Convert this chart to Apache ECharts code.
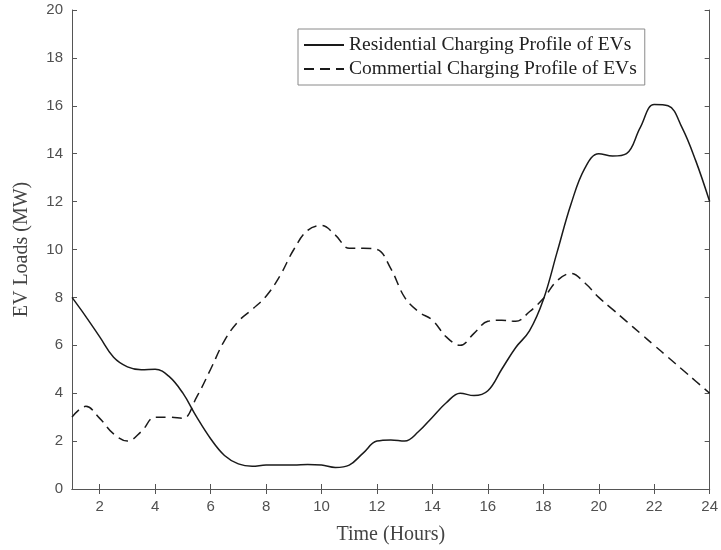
<!DOCTYPE html>
<html>
<head>
<meta charset="utf-8">
<script src="https://cdn.jsdelivr.net/npm/echarts@6/dist/echarts.min.js"></script>
<style>
  html, body { margin: 0; padding: 0; background: #fff; }
  #chart { width: 721px; height: 550px; }
</style>
</head>
<body>
<div id="chart"></div>
<script>
// Time (hours), read every half hour from the reference
var hours = [1, 1.5, 2, 2.5, 3, 3.5, 4, 4.5, 5, 5.5, 6, 6.5, 7, 7.5, 8, 8.5, 9, 9.5, 10, 10.5, 11, 11.5, 12, 12.5,
             13, 13.5, 14, 14.5, 15, 15.5, 16, 16.5, 17, 17.5, 18, 18.5, 19, 19.5, 20, 20.5, 21, 21.5, 22, 22.5, 23, 23.5, 24];
// Residential charging profile (MW)
var residential = [8.0, 7.2, 6.35, 5.5, 5.1, 4.98, 5.0, 4.7, 4.0, 3.0, 2.1, 1.4, 1.05, 0.95, 1.0, 1.0, 1.0, 1.02, 1.0, 0.9,
                   1.0, 1.5, 2.0, 2.05, 2.0, 2.4, 3.0, 3.6, 4.0, 3.9, 4.1, 5.0, 5.9, 6.6, 7.9, 9.9, 11.9, 13.4,
                   14.0, 13.9, 14.0, 15.1, 16.05, 16.0, 15.1, 13.7, 12.0];
// Commercial charging profile (MW)
var commercial = [3.0, 3.45, 2.95, 2.3, 2.0, 2.4, 3.0, 3.0, 2.95, 3.85, 5.0, 6.2, 7.0, 7.5, 8.05, 8.9, 10.0, 10.8, 11.0, 10.6,
                  10.05, 10.05, 10.0, 9.2, 8.0, 7.4, 7.05, 6.35, 6.0, 6.5, 7.0, 7.05, 7.0, 7.4, 7.95, 8.7, 9.0, 8.6,
                  8.0, 7.5, 7.0, 6.5, 6.0, 5.5, 5.0, 4.5, 4.0];
var xTicks = [2, 4, 6, 8, 10, 12, 14, 16, 18, 20, 22, 24];
var seriesNames = ['Residential Charging Profile of EVs', 'Commertial Charging Profile of EVs'];

function pairs(ys) { return hours.map(function (h, i) { return [h, ys[i]]; }); }

var axisColor = '#555555';
var labelColor = '#505050';
var tickFont = { color: labelColor, fontFamily: 'Liberation Sans', fontSize: 15 };
var nameFont = { color: '#444444', fontFamily: 'Liberation Serif', fontSize: 20 };

var chart = echarts.init(document.getElementById('chart'), null, { renderer: 'canvas' });
chart.setOption({
  animation: false,
  backgroundColor: '#ffffff',
  grid: { left: 72, right: 9, top: 10, bottom: 59, containLabel: false },
  legend: {
    orient: 'vertical', left: 298, top: 29,
    padding: [6, 8, 6, 5], itemGap: 4, itemWidth: 40, itemHeight: 14,
    borderColor: '#8a8a8a', borderWidth: 1, backgroundColor: '#ffffff',
    itemStyle: { color: 'transparent', borderColor: 'transparent', borderWidth: 0 },
    textStyle: { color: '#222222', fontFamily: 'Liberation Serif', fontSize: 19.5 },
    data: seriesNames
  },
  xAxis: [{
    type: 'value', position: 'bottom', min: 1, max: 24,
    name: 'Time (Hours)', nameLocation: 'middle', nameGap: 36, nameTextStyle: nameFont,
    axisLine: { show: true, lineStyle: { color: axisColor, width: 1 } },
    axisTick: { show: true, inside: true, length: 5, customValues: xTicks, lineStyle: { color: axisColor } },
    axisLabel: Object.assign({ show: true, margin: 10, customValues: xTicks }, tickFont),
    splitLine: { show: false }
  }, {
    type: 'value', position: 'top', min: 1, max: 24,
    axisLine: { show: true, lineStyle: { color: axisColor, width: 1 } },
    axisTick: { show: true, inside: true, length: 5, customValues: xTicks, lineStyle: { color: axisColor } },
    axisLabel: { show: false },
    splitLine: { show: false }
  }],
  yAxis: [{
    type: 'value', position: 'left', min: 0, max: 20, interval: 2,
    name: 'EV Loads (MW)', nameLocation: 'middle', nameGap: 40, nameTextStyle: nameFont,
    axisLine: { show: true, lineStyle: { color: axisColor, width: 1 } },
    axisTick: { show: true, inside: true, length: 5, lineStyle: { color: axisColor } },
    axisLabel: Object.assign({ show: true, margin: 9 }, tickFont),
    splitLine: { show: false }
  }, {
    type: 'value', position: 'right', min: 0, max: 20, interval: 2,
    axisLine: { show: true, lineStyle: { color: axisColor, width: 1 } },
    axisTick: { show: true, inside: true, length: 5, lineStyle: { color: axisColor } },
    axisLabel: { show: false },
    splitLine: { show: false }
  }],
  series: [{
    name: seriesNames[0], type: 'line', xAxisIndex: 0, yAxisIndex: 0,
    data: pairs(residential), smooth: 0.4, symbol: 'none',
    lineStyle: { color: '#1a1a1a', width: 1.5, type: 'solid' },
    itemStyle: { color: '#1a1a1a' }
  }, {
    name: seriesNames[1], type: 'line', xAxisIndex: 0, yAxisIndex: 0,
    data: pairs(commercial), smooth: 0.4, symbol: 'none',
    lineStyle: { color: '#1a1a1a', width: 1.5, type: [10, 6] },
    itemStyle: { color: '#1a1a1a' }
  }]
});
</script>
</body>
</html>
